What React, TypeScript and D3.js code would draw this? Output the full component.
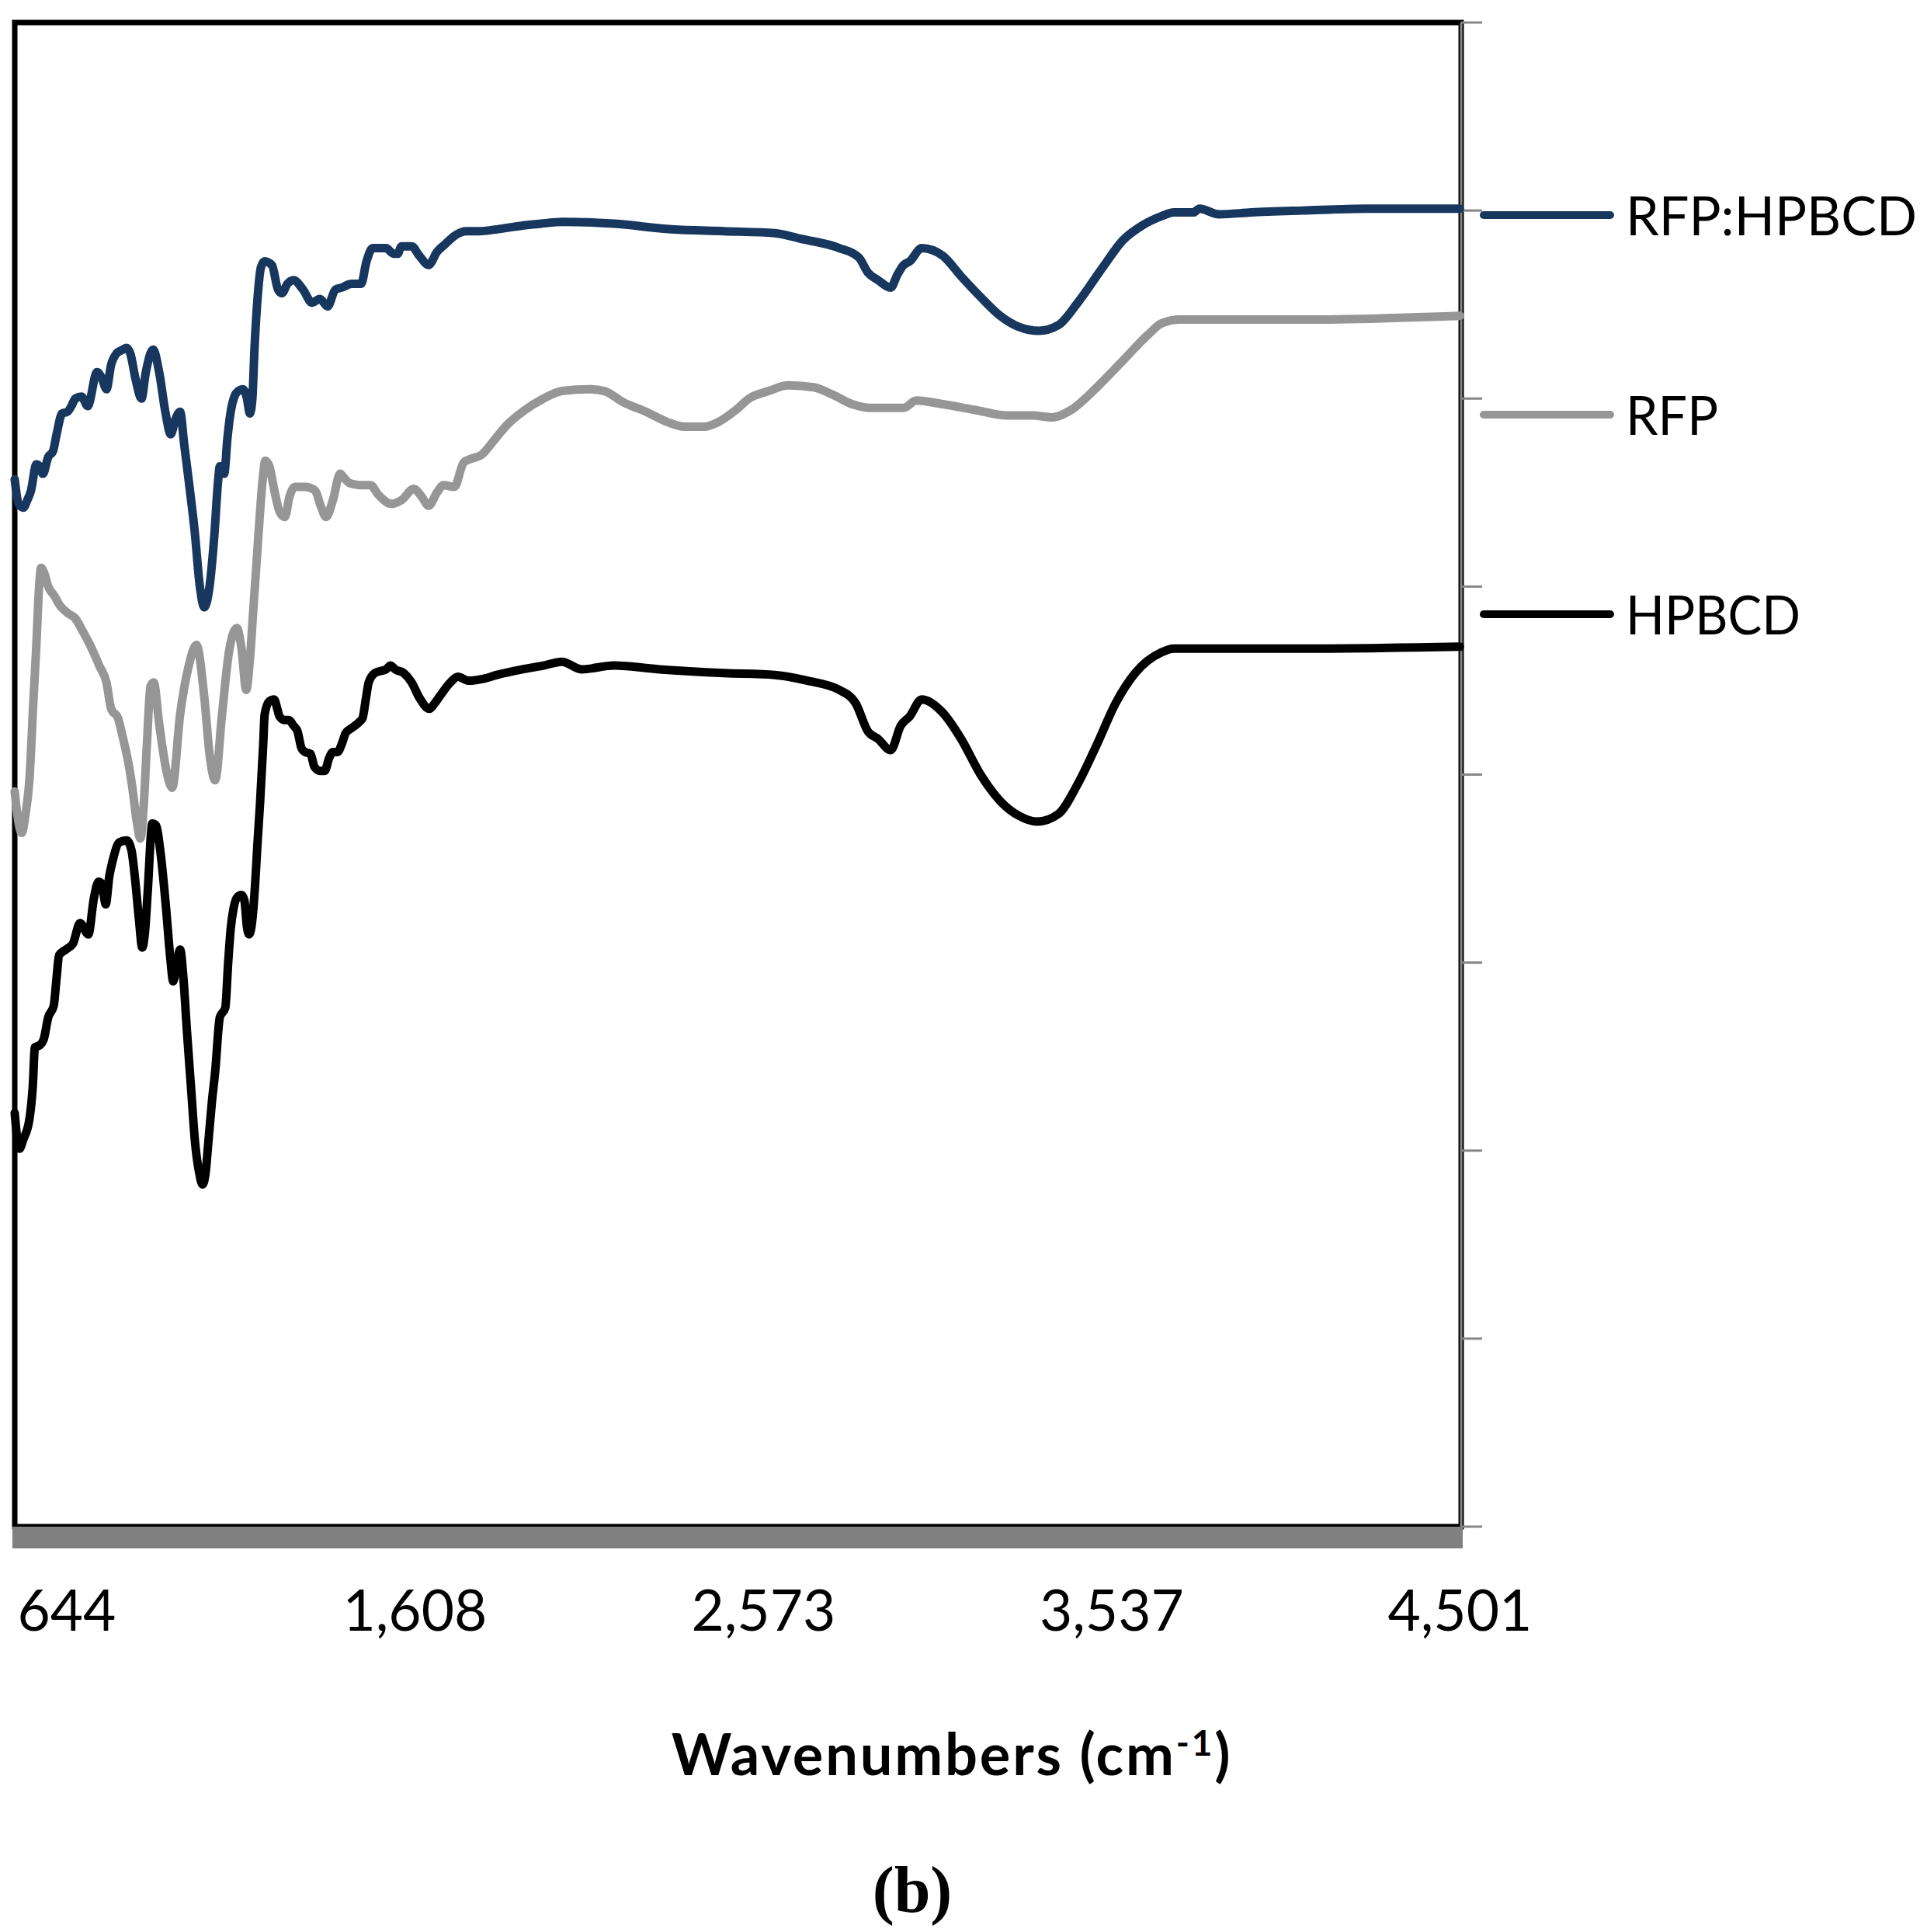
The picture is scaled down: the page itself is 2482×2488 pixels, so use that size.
import React from "react";
import * as d3 from "d3";

// ---- Data (wavenumber cm^-1, transmittance a.u.) ----
const xTickValues = [644, 1608, 2573, 3537, 4501];
const seriesNames = ["RFP:HPBCD", "RFP", "HPBCD"];
const seriesColors = ["#17375E", "#969696", "#000000"];

const rfpHpbcd: [number, number][] = [
  [500,55.7],[511,54.4],[524,54.2],[535,54.6],[545,55.1],[560,56.5],[569,56.4],[578,56.0],[593,56.9],[606,57.2],
  [616,58.1],[631,59.2],[646,59.3],[657,59.6],[668,60.0],[685,60.1],[702,59.6],[728,61.4],[741,61.1],[754,60.5],
  [767,61.8],[782,62.4],[799,62.6],[810,62.7],[820,62.4],[835,61.0],[851,60.0],[863,61.4],[883,62.6],[900,61.4],
  [917,59.3],[932,58.1],[945,58.9],[958,59.3],[969,57.6],[982,55.6],[999,52.8],[1012,50.1],[1025,48.9],[1040,50.1],
  [1053,52.8],[1063,55.6],[1068,56.4],[1080,56.0],[1089,57.9],[1098,59.3],[1108,60.1],[1119,60.4],[1132,60.5],
  [1143,60.0],[1151,59.2],[1158,60.0],[1164,62.7],[1173,65.5],[1182,67.0],[1192,67.3],[1212,67.1],[1229,65.8],
  [1240,65.6],[1255,66.1],[1272,66.3],[1298,65.8],[1323,65.1],[1345,65.3],[1366,64.9],[1388,65.8],[1405,65.9],
  [1433,66.1],[1459,66.1],[1474,67.3],[1491,68.0],[1528,68.0],[1549,67.7],[1560,67.7],[1571,68.1],[1599,68.1],
  [1620,67.6],[1646,67.1],[1669,67.8],[1691,68.2],[1721,68.7],[1749,68.9],[1785,68.9],[1835,69.0],[1906,69.2],
  [1957,69.3],[2015,69.4],[2159,69.3],[2318,69.0],[2463,68.9],[2604,68.8],[2675,68.5],[2783,68.0],[2837,67.5],
  [2862,66.7],[2890,66.3],[2925,65.9],[2944,66.6],[2961,67.1],[2978,67.3],[3011,68.0],[3069,67.6],[3120,66.5],
  [3174,65.4],[3228,64.4],[3281,63.8],[3335,63.6],[3389,63.9],[3443,65.1],[3513,67.0],[3567,68.4],[3621,69.2],
  [3675,69.7],[3709,69.9],[3763,69.9],[3780,70.1],[3834,69.8],[3924,69.9],[4066,70.0],[4244,70.1],[4501,70.1]
];

const rfp: [number, number][] = [
  [500,39.1],[511,37.4],[519,36.9],[530,37.9],[541,39.8],[552,44.0],[560,46.9],[567,49.8],[573,51.0],[582,50.7],
  [593,50.0],[610,49.5],[625,49.0],[646,48.6],[668,48.3],[689,47.6],[711,46.8],[734,45.8],[754,44.9],[767,43.5],
  [786,43.0],[799,42.0],[814,40.7],[825,39.4],[838,37.5],[848,36.6],[857,38.3],[866,41.6],[876,44.7],[885,44.9],
  [900,42.7],[919,40.3],[936,39.3],[958,43.2],[982,45.8],[1003,46.9],[1025,44.1],[1040,41.0],[1055,39.7],[1074,43.2],
  [1093,46.5],[1115,47.8],[1128,46.7],[1141,44.5],[1151,46.1],[1160,48.6],[1175,52.8],[1186,55.6],[1194,56.7],
  [1205,56.4],[1218,55.2],[1233,54.0],[1248,53.7],[1261,54.8],[1276,55.3],[1304,55.3],[1332,55.1],[1347,54.3],
  [1362,53.7],[1381,54.6],[1401,56.0],[1411,55.8],[1427,55.5],[1454,55.4],[1485,55.4],[1506,54.9],[1543,54.4],
  [1571,54.6],[1605,55.2],[1626,54.8],[1646,54.3],[1669,55.0],[1687,55.4],[1717,55.3],[1743,56.6],[1764,56.8],
  [1792,57.0],[1828,57.8],[1863,58.6],[1906,59.3],[1964,60.0],[2015,60.4],[2089,60.5],[2132,60.4],[2185,59.8],
  [2248,59.3],[2301,58.8],[2355,58.5],[2409,58.5],[2443,58.7],[2497,59.4],[2533,60.0],[2587,60.4],[2641,60.7],
  [2712,60.6],[2765,60.2],[2819,59.7],[2871,59.5],[2925,59.5],[2961,59.5],[2996,59.9],[3069,59.7],[3157,59.4],
  [3247,59.1],[3318,59.1],[3372,59.0],[3425,59.4],[3496,60.6],[3567,62.0],[3638,63.4],[3675,64.0],[3726,64.2],
  [3888,64.2],[4066,64.2],[4501,64.4]
];

const hpbcd: [number, number][] = [
  [500,22.0],[513,20.1],[524,20.6],[541,21.7],[550,23.4],[556,25.5],[569,25.6],[580,25.9],[593,27.1],[608,27.7],
  [616,29.2],[623,30.4],[642,30.7],[661,31.0],[681,32.1],[704,31.5],[719,33.4],[732,34.3],[741,34.2],[752,33.1],
  [762,34.6],[771,35.4],[790,36.4],[810,36.5],[823,36.0],[833,34.5],[844,32.3],[853,30.8],[861,31.7],[868,33.7],
  [881,37.4],[891,37.3],[904,35.8],[919,32.9],[930,30.4],[939,29.0],[949,30.0],[958,30.7],[967,29.2],[977,26.3],
  [988,23.4],[999,20.5],[1010,18.9],[1020,18.2],[1029,18.9],[1035,20.2],[1046,22.6],[1055,24.2],[1068,27.1],
  [1083,27.6],[1091,30.0],[1098,31.8],[1106,32.9],[1117,33.5],[1128,33.6],[1136,33.3],[1143,31.9],[1149,31.5],
  [1158,32.3],[1164,33.7],[1173,36.6],[1179,38.4],[1188,41.6],[1192,43.2],[1205,43.9],[1218,44.0],[1227,43.5],
  [1233,43.1],[1248,42.9],[1259,42.9],[1272,42.6],[1283,42.3],[1294,41.4],[1304,41.2],[1319,41.1],[1330,40.4],
  [1345,40.2],[1358,40.2],[1371,40.9],[1381,41.2],[1394,41.2],[1405,41.6],[1416,42.2],[1427,42.4],[1442,42.6],
  [1454,42.8],[1463,43.0],[1472,44.0],[1480,44.9],[1497,45.4],[1512,45.5],[1528,45.6],[1541,45.8],[1553,45.6],
  [1577,45.4],[1599,44.9],[1620,44.1],[1648,43.5],[1663,43.8],[1678,44.2],[1706,44.9],[1727,45.2],[1755,45.0],
  [1798,45.1],[1835,45.3],[1906,45.6],[1964,45.8],[2015,46.0],[2069,45.6],[2159,45.8],[2284,45.6],[2463,45.4],
  [2604,45.3],[2693,45.0],[2783,44.5],[2828,43.8],[2862,42.3],[2890,41.9],[2925,41.3],[2953,42.6],[2978,43.1],
  [3011,44.0],[3069,43.3],[3120,41.9],[3174,40.0],[3228,38.6],[3281,37.8],[3331,37.5],[3389,37.9],[3443,39.5],
  [3496,41.6],[3548,43.8],[3602,45.4],[3675,46.5],[3709,46.7],[4066,46.7],[4501,46.8]
];

const allSeries = [rfpHpbcd, rfp, hpbcd];

// ---- Layout ----
const W = 2482;
const H = 2488;
const plot = { left: 19, right: 1882, top: 29, bottom: 1966 };
const FONT = 'Lato, "Open Sans", "Noto Sans", sans-serif';
const legendTextWidths = [375, 119, 225];

export default function App() {
  const x = d3.scaleLinear().domain([498, 4501]).range([18, 1880.4]);
  const y = d3.scaleLinear().domain([0, 80]).range([plot.bottom, plot.top]);
  const line = d3
    .line<[number, number]>()
    .x((d) => x(d[0]))
    .y((d) => y(d[1]))
    .curve(d3.curveMonotoneX);
  const fmt = d3.format(",");
  const yTicks = y.ticks(8);
  const legendTop = 277;
  const legendStep = 257;

  return (
    <svg
      width={W}
      height={H}
      viewBox={`0 0 ${W} ${H}`}
      style={{ position: "absolute", left: 0, top: 0, background: "#fff" }}
    >
      <rect x={0} y={0} width={W} height={H} fill="#fff" />
      {/* plot frame */}
      <rect
        x={plot.left}
        y={plot.top}
        width={plot.right - plot.left}
        height={plot.bottom - plot.top}
        fill="none"
        stroke="#000"
        strokeWidth={7}
      />
      {/* right value axis (unlabelled) */}
      <line x1={plot.right} x2={plot.right} y1={plot.top} y2={plot.bottom} stroke="#868686" strokeWidth={3} />
      {yTicks.map((t) => (
        <line key={t} x1={plot.right} x2={plot.right + 27} y1={y(t)} y2={y(t)} stroke="#868686" strokeWidth={3} />
      ))}
      {/* bottom category axis bar */}
      <rect x={16} y={plot.bottom} width={plot.right + 2 - 16} height={28} fill="#808080" />
      {/* x tick labels */}
      {xTickValues.map((t) => (
        <text key={t} x={x(t)} y={2100} textAnchor="middle" fontFamily={FONT} fontSize={73} fill="#000">
          {fmt(t)}
        </text>
      ))}
      {/* x axis title */}
      <text x={1226} y={2286} textAnchor="middle" fontFamily={FONT} fontWeight="bold" fontSize={74} letterSpacing={2.8} fill="#000">
        <tspan>Wavenumbers (cm</tspan>
        <tspan fontSize={46} dy={-25}>-1</tspan>
        <tspan dy={25}>)</tspan>
      </text>
      {/* panel label */}
      <text x={1175} y={2462} textAnchor="middle" fontFamily='"Liberation Serif", "DejaVu Serif", serif' fontWeight="bold" fontSize={84} fill="#000">
        (b)
      </text>
      {/* curves */}
      {allSeries.map((s, i) => (
        <path
          key={seriesNames[i]}
          d={line(s) || ""}
          fill="none"
          stroke={seriesColors[i]}
          strokeWidth={11}
          strokeLinejoin="round"
          strokeLinecap="round"
        />
      ))}
      {/* legend */}
      {seriesNames.map((name, i) => {
        const ly = legendTop + i * legendStep;
        return (
          <g key={name}>
            <line x1={1911} x2={2074} y1={ly} y2={ly} stroke={seriesColors[i]} strokeWidth={10} strokeLinecap="round" />
            <text
              x={2094}
              y={ly + 25.5}
              fontFamily={FONT}
              fontSize={70}
              textLength={legendTextWidths[i]}
              lengthAdjust="spacingAndGlyphs"
              fill="#000"
            >
              {name}
            </text>
          </g>
        );
      })}
    </svg>
  );
}
